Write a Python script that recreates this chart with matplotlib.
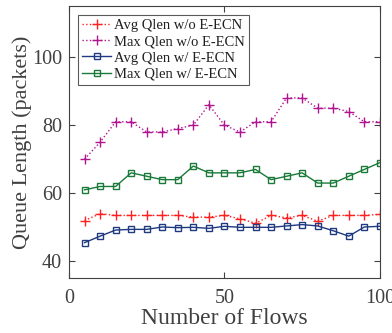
import matplotlib
matplotlib.use("Agg")
import matplotlib.pyplot as plt

flows = [5, 10, 15, 20, 25, 30, 35, 40, 45, 50, 55, 60, 65, 70, 75, 80, 85, 90, 95, 100]
avg_wo = [52, 54, 53.5, 53.5, 53.5, 53.5, 53.5, 53, 53, 53.5, 52.5, 51.2, 53.5, 52.8, 53.5, 51.8, 53.5, 53.5, 53.5, 53.8]
max_wo = [70, 75, 81, 81, 78, 78, 79, 80, 86, 80, 78, 81, 81, 88, 88, 85, 85, 84, 81, 81]
avg_w = [45.5, 47.4, 49.2, 49.4, 49.4, 50.1, 49.9, 50.0, 49.7, 50.3, 50.0, 50.0, 50.0, 50.4, 50.8, 50.4, 49.0, 47.4, 50.1, 50.3]
max_w = [61, 62, 62, 66, 65, 64, 64, 68, 66, 66, 66, 67, 64, 65, 66, 63, 63, 65, 67, 69]
labels = ["Avg Qlen w/o E-ECN", "Max Qlen w/o E-ECN", "Avg Qlen w/ E-ECN", "Max Qlen w/ E-ECN"]

plt.rcParams['font.family'] = ['Liberation Serif', 'DejaVu Serif']
txt = '#404040'

fig = plt.figure(figsize=(3.92, 3.33), dpi=100)
ax = fig.add_axes([0.176, 0.166, 0.793, 0.816])

ax.plot(flows, avg_wo, color='#ff2020', ls=':', lw=1.0, marker='+', ms=7, mew=1.0, label=labels[0])
ax.plot(flows, max_wo, color='#b0158f', ls=':', lw=1.0, marker='+', ms=7, mew=1.0, label=labels[1])
ax.plot(flows, avg_w, color='#1f3a80', ls='-', lw=1.0, marker='s', ms=5, mew=1.0, mfc='none', label=labels[2])
ax.plot(flows, max_w, color='#1a7a3a', ls='-', lw=1.0, marker='s', ms=5, mew=1.0, mfc='none', label=labels[3])

ax.set_xlim(0, 100)
ax.set_ylim(35.2, 115)
ax.set_xticks([0, 50, 100])
ax.set_yticks([40, 60, 80, 100])
ax.tick_params(direction='in', top=True, right=True, labelsize=14.5, colors=txt, length=4, width=0.8, pad=5)
ax.tick_params(axis='x', pad=8)
for s in ax.spines.values():
    s.set_color('#404040')
    s.set_linewidth(0.8)
ax.set_xlabel('Number of Flows', fontsize=17, color=txt, labelpad=0)
ax.set_ylabel('Queue Length (packets)', fontsize=16, color=txt, labelpad=0)

leg = ax.legend(loc='upper left', fontsize=10.5, frameon=True, fancybox=False,
                edgecolor='#303030', borderpad=0.3, labelspacing=0.2,
                handlelength=2.0, handletextpad=0.2, borderaxespad=0.6)
leg.get_frame().set_linewidth(0.8)
for t in leg.get_texts():
    t.set_color('#202020')

fig.savefig('out.png', dpi=100)
